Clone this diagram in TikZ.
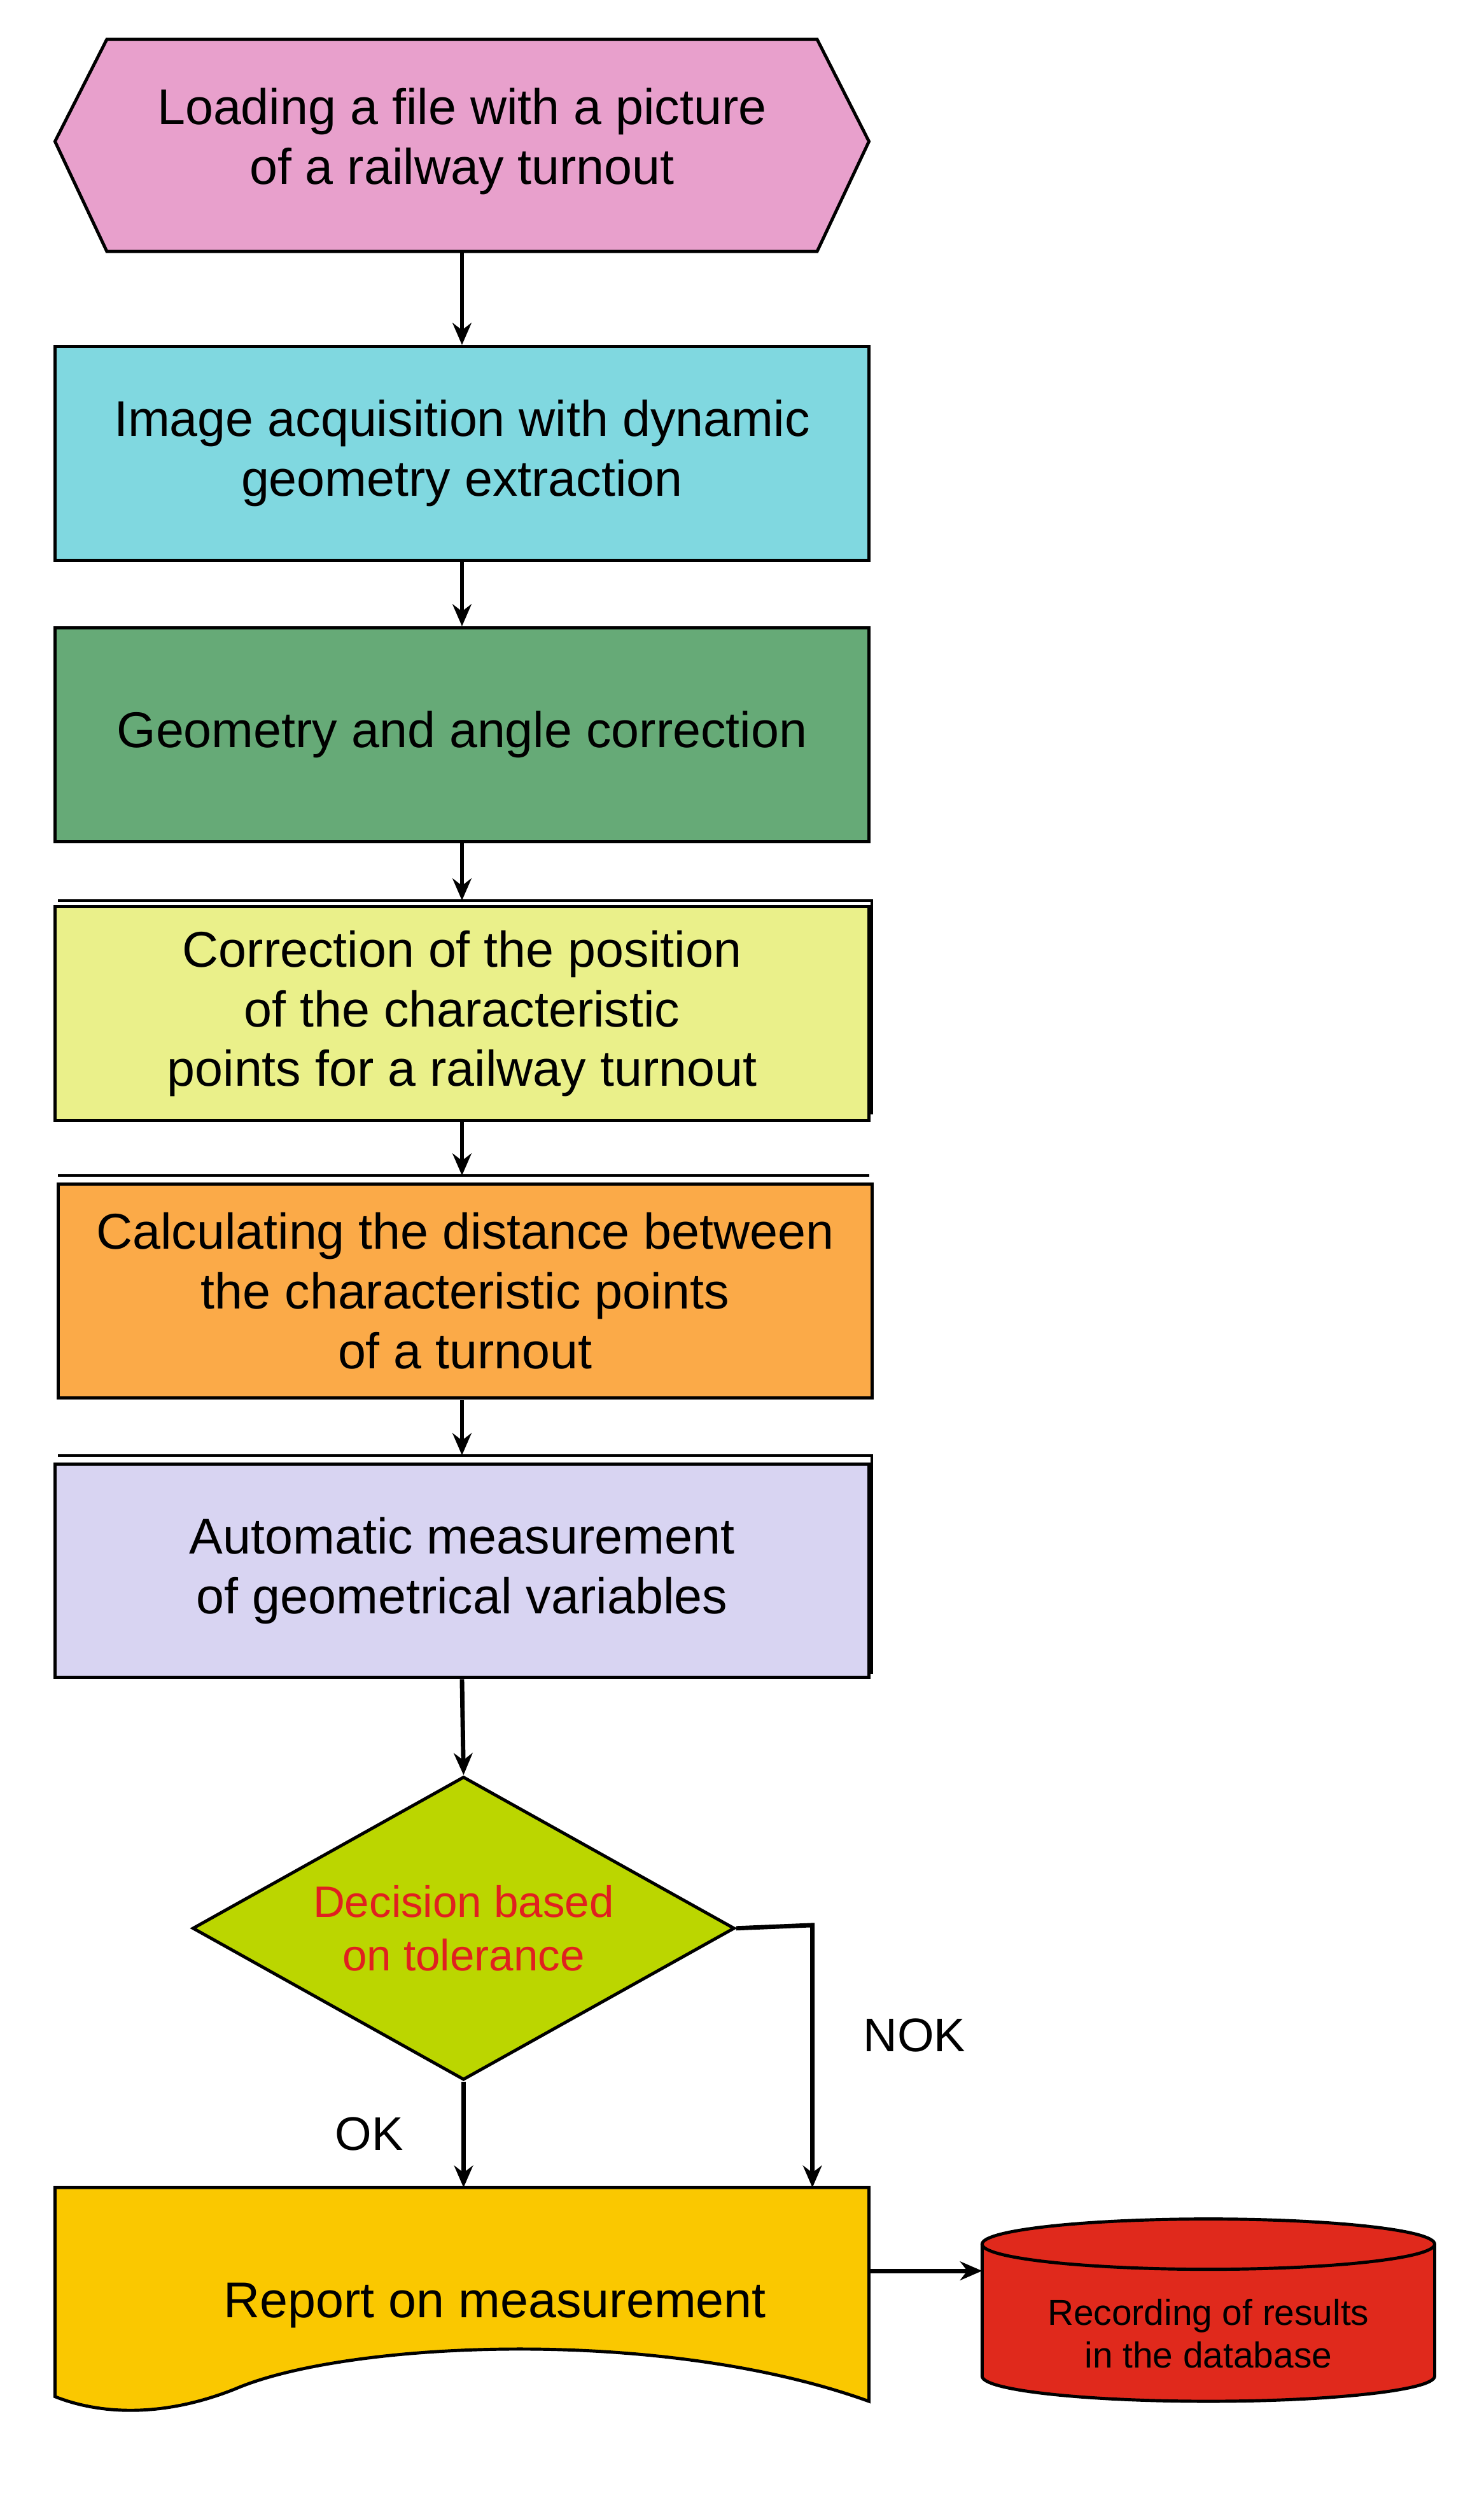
\documentclass[tikz,border=0pt]{standalone}
\usepackage{fontspec}
\setmainfont{Liberation Sans}
\usetikzlibrary{shapes.geometric,arrows.meta}
\definecolor{cpink}{HTML}{E8A0CC}
\definecolor{ccyan}{HTML}{80D8E0}
\definecolor{cgreen}{HTML}{66AA77}
\definecolor{cyel}{HTML}{EAF08A}
\definecolor{corange}{HTML}{FBAA48}
\definecolor{clav}{HTML}{D8D4F2}
\definecolor{clime}{HTML}{BBD600}
\definecolor{cgold}{HTML}{FAC800}
\definecolor{cred}{HTML}{E0291C}
\definecolor{ctxt}{HTML}{E02020}
\begin{document}
\begin{tikzpicture}[x=0.5pt,y=-0.5pt,
  box/.style={draw=black,line width=1pt,minimum width=259pt,minimum height=68pt,align=center,font=\fontsize{16}{19}\selectfont,inner sep=0pt},
  arr/.style={draw=black,line width=1.4pt,-{Stealth[length=7pt,width=6pt]}}]
\useasboundingbox (0,0) rectangle (944,1594);
\fill[white] (0,0) rectangle (944,1594);
% hexagon
\draw[fill=cpink,line width=1pt] (68,25) -- (520,25) -- (553,90) -- (520,160) -- (68,160) -- (35,90) -- cycle;
\node[font=\fontsize{16}{19}\selectfont,align=center] (hex) at (294,90) {Loading a file with a picture\\of a railway turnout};
\coordinate (hexb) at (294,160);
\node[box,fill=ccyan] (b1) at (294,288.5) {Image acquisition with dynamic\\geometry extraction};
\node[box,fill=cgreen] (b2) at (294,467.5) {Geometry and angle correction};
\draw[line width=0.8pt] (37,573) -- (555,573) -- (555,709);
\node[box,fill=cyel] (b3) at (294,645) {Correction of the position\\of the characteristic\\points for a railway turnout};
\draw[line width=0.8pt] (37,748) -- (553,748);
\node[box,fill=corange] (b4) at (296,821.5) {Calculating the distance between\\the characteristic points\\of a turnout};
\draw[line width=0.8pt] (37,926) -- (555,926) -- (555,1065);
\node[box,fill=clav] (b5) at (294,999.5) {Automatic measurement\\of geometrical variables};
\node[diamond,draw,line width=1pt,fill=clime,minimum width=172.5pt,minimum height=96.5pt,inner sep=0pt,aspect=1.8,font=\fontsize{14}{17}\selectfont,text=ctxt,align=center] (d) at (295,1227) {Decision based\\on tolerance};
% report document
\draw[fill=cgold,line width=1pt] (35,1392) -- (553,1392) -- (553,1528)
  .. controls (420,1480) and (220,1490) .. (150,1520) .. controls (100,1540) and (60,1535) .. (35,1525) -- cycle;
\node[font=\fontsize{16}{19}\selectfont] (rep) at (315,1467) {Report on measurement};
\coordinate (reptop) at (295,1392);
\coordinate (repnok) at (517,1392);
\coordinate (repr) at (553,1445);
% cylinder
\draw[fill=cred,line width=1pt] (625,1428) -- (625,1512) arc[start angle=180,end angle=0,x radius=144,y radius=16] -- (913,1428);
\draw[fill=cred,line width=1pt] (769,1428) ellipse[x radius=144,y radius=16];
\node[font=\fontsize{11.5}{13.5}\selectfont,align=center] (cyl) at (769,1485) {Recording of results\\in the database};
\coordinate (cyll) at (625,1445);
% arrows
\draw[arr] (hexb) -- (b1.north);
\draw[arr] (b1.south) -- (b2.north);
\draw[arr] (b2.south) -- (294,573);
\draw[arr] (b3.south) -- (294,748);
\draw[arr] (294,891) -- (294,926);
\draw[arr] (b5.south) -- (d.north);
\draw[arr] (d.south) -- (reptop);
\draw[arr] (d.east) -- (517,1225) -- (repnok);
\draw[arr] (repr) -- (cyll);
\node[font=\fontsize{15}{18}\selectfont] (ok) at (235,1358) {OK};
\node[font=\fontsize{15}{18}\selectfont] (nok) at (582,1295) {NOK};
\end{tikzpicture}
\end{document}
